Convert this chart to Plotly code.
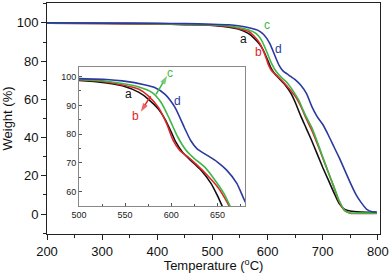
import plotly.graph_objects as go

# ---- data ----
t_a = [200, 300, 400, 450, 500, 530, 547, 565, 575, 586, 593, 600, 605, 612, 621, 632, 643, 650, 660, 670, 680, 690, 700, 710, 720, 730, 740, 750, 770, 798]
w_a = [99.9, 99.7, 99.4, 99.1, 98.7, 97.8, 96.8, 94.5, 92.2, 88.7, 85.3, 80.7, 77.2, 73.8, 70.9, 67.5, 62.9, 58.6, 51.5, 45, 38.5, 31.5, 24.5, 18, 11.5, 5.5, 2.5, 1.6, 1.1, 0.9]

t_b = [200, 300, 400, 450, 500, 530, 547, 565, 575, 586, 595, 602, 609, 618, 628, 639, 650, 657, 663, 670, 680, 690, 700, 710, 720, 730, 740, 750, 770, 798]
w_b = [99.9, 99.7, 99.5, 99.2, 98.9, 98.1, 97.1, 95.6, 93.3, 89.3, 83.6, 77.8, 74.4, 72.1, 69.2, 65.7, 61.7, 58.3, 54.8, 50, 44, 37, 29.5, 22, 14.5, 6.5, 1.8, 0.5, 0.3, 0.3]

t_c = [200, 300, 400, 450, 500, 530, 547, 565, 579, 589, 598, 607, 616, 625, 636, 646, 657, 664, 670, 680, 690, 700, 710, 720, 730, 740, 750, 770, 798]
w_c = [99.9, 99.8, 99.6, 99.3, 99.0, 98.4, 97.6, 96.4, 94.5, 91.0, 85.3, 79.0, 74.4, 71.5, 68.6, 64.6, 59.4, 54.8, 51, 45.5, 38, 30, 22, 14.5, 7, 2, 0.6, 0.5, 0.5]

t_d = [200, 300, 400, 450, 500, 530, 547, 572, 582, 593, 604, 614, 621, 628, 639, 650, 660, 671, 680, 690, 700, 710, 720, 730, 740, 750, 760, 770, 780, 790, 798]
w_d = [100, 99.9, 99.8, 99.6, 99.3, 99.0, 98.5, 97.1, 96.2, 93.9, 89.3, 82.4, 77.8, 74.9, 72.6, 70.3, 67.5, 62.9, 56.5, 51, 47, 41.5, 35.5, 29.5, 23, 16.5, 10.5, 6, 2.5, 1.2, 1.1]

series_names = ["a", "b", "c", "d"]
series_colors = ["#111111", "#e0262a", "#3db846", "#2b3a9e"]

main_x_ticks = [200, 300, 400, 500, 600, 700, 800]
main_y_ticks = [0, 20, 40, 60, 80, 100]
inset_x_ticks = [500, 550, 600, 650]
inset_y_ticks = [60, 70, 80, 90, 100]

# arrow pointers in the inset (tail -> head), data units of the inset
arrow_b_t = [577.5, 567.0]
arrow_b_w = [93.2, 87.8]
arrow_c_t = [583.5, 595.5]
arrow_c_w = [93.8, 100.3]

FONT = "Liberation Sans, Arial, sans-serif"

fig = go.Figure()
data = [(t_a, w_a), (t_b, w_b), (t_c, w_c), (t_d, w_d)]
for (t, w), n, c in zip(data, series_names, series_colors):
    fig.add_trace(go.Scatter(x=t, y=w, mode="lines", name=n,
                             line=dict(color=c, width=1.6, shape="spline", smoothing=0.6),
                             xaxis="x", yaxis="y", showlegend=False, hoverinfo="skip"))
for (t, w), n, c in zip(data, series_names, series_colors):
    fig.add_trace(go.Scatter(x=t, y=w, mode="lines", name=n,
                             line=dict(color=c, width=1.6, shape="spline", smoothing=0.6),
                             xaxis="x2", yaxis="y2", showlegend=False, hoverinfo="skip"))

for (ax_, ay_), c in [((arrow_b_t, arrow_b_w), series_colors[1]),
                      ((arrow_c_t, arrow_c_w), series_colors[2])]:
    fig.add_trace(go.Scatter(x=ax_, y=ay_, mode="lines+markers",
                             line=dict(color=c, width=1.5),
                             marker=dict(symbol="arrow", angleref="previous",
                                         size=[0, 9], color=c, line=dict(width=0)),
                             xaxis="x2", yaxis="y2", showlegend=False, hoverinfo="skip"))

axis_common = dict(showgrid=False, zeroline=False, showline=True, mirror=True,
                   linecolor="#222", linewidth=1, ticks="outside", ticklen=5,
                   tickcolor="#222", tickfont=dict(family=FONT, size=13, color="#111"))

fig.update_layout(
    width=392, height=273,
    margin=dict(l=40, r=12, t=2, b=39),
    paper_bgcolor="white", plot_bgcolor="white",
    font=dict(family=FONT, color="#111"),
    xaxis=dict(range=[200, 804], tickvals=main_x_ticks,
               minor=dict(dtick=50, ticks="outside", ticklen=3, tickcolor="#222"),
               title=dict(text="Temperature (<sup>o</sup>C)", font=dict(size=13), standoff=2),
               **axis_common),
    yaxis=dict(range=[-10.4, 110.4], tickvals=main_y_ticks,
               minor=dict(dtick=10, ticks="outside", ticklen=3, tickcolor="#222"),
               title=dict(text="Weight (%)", font=dict(size=13), standoff=6),
               **axis_common),
    xaxis2=dict(domain=[0.096, 0.595], anchor="y2", range=[500, 680],
                tickvals=inset_x_ticks, showgrid=False, zeroline=False,
                showline=True, mirror=True, linecolor="#888", linewidth=1,
                ticks="inside", ticklen=3, tickcolor="#555",
                minor=dict(dtick=25, ticks="inside", ticklen=2, tickcolor="#555"),
                tickfont=dict(family=FONT, size=9, color="#222")),
    yaxis2=dict(domain=[0.121, 0.725], anchor="x2", range=[55, 103.5],
                tickvals=inset_y_ticks, showgrid=False, zeroline=False,
                showline=True, mirror=True, linecolor="#888", linewidth=1,
                ticks="inside", ticklen=3, tickcolor="#555",
                minor=dict(dtick=5, ticks="inside", ticklen=2, tickcolor="#555"),
                tickfont=dict(family=FONT, size=9, color="#222")),
)

# curve labels in the main plot
main_labels = [(555.6, 91.7), (583.6, 85.0), (598.2, 99.0), (619.6, 86.6)]
for (x, y), n, c in zip(main_labels, series_names, series_colors):
    fig.add_annotation(x=x, y=y, xref="x", yref="y", text=n, showarrow=False,
                       font=dict(family=FONT, size=12, color=c))

# curve labels in the inset
inset_labels = [(554.0, 93.9), (561.0, 86.4), (599.0, 101.2), (607.0, 91.5)]
for (x, y), n, c in zip(inset_labels, series_names, series_colors):
    fig.add_annotation(x=x, y=y, xref="x2", yref="y2", text=n, showarrow=False,
                       font=dict(family=FONT, size=12, color=c))

fig.write_html("out.html", config={"displayModeBar": False, "staticPlot": True},
               post_script="document.body.style.margin='0';document.body.style.overflow='hidden';")
